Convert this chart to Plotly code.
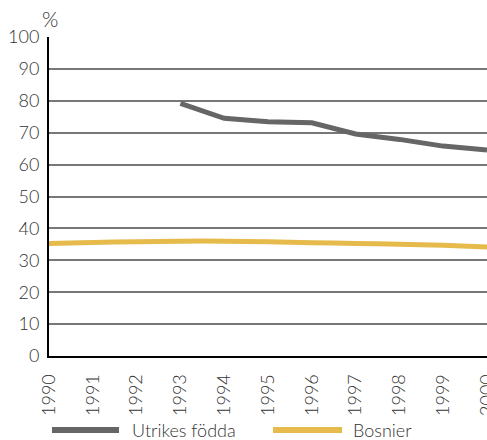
import plotly.graph_objects as go

years = [1990, 1991, 1992, 1993, 1994, 1995, 1996, 1997, 1998, 1999, 2000]
utrikes_years = [1993, 1994, 1995, 1996, 1997, 1998, 1999, 2000]
utrikes = [79.2, 74.5, 73.4, 73.1, 69.6, 67.9, 65.8, 64.6]
bosnier = [35.3, 35.6, 35.8, 36.0, 36.0, 35.8, 35.5, 35.3, 35.0, 34.7, 34.2]
y_ticks = [0, 10, 20, 30, 40, 50, 60, 70, 80, 90, 100]

GRAY = "#666666"
YELLOW = "#E6BB4C"
FONT = dict(family="Lato, sans-serif", size=18, color="#333333", weight=300)

fig = go.Figure()
fig.add_trace(go.Scatter(x=years, y=bosnier, mode="lines", name="Bosnier",
                         line=dict(color=YELLOW, width=5, shape="spline", smoothing=0.6),
                         showlegend=False))
fig.add_trace(go.Scatter(x=utrikes_years, y=utrikes, mode="lines", name="Utrikes födda",
                         line=dict(color=GRAY, width=5), showlegend=False))

W, H = 487, 440
L, R, T, B = 49, 0, 37, 84
pw, ph = W - L - R, H - T - B

def px_x(x):
    return (x - L) / pw

def px_y(y):
    return (H - B - y) / ph

shapes = [
    dict(type="line", xref="paper", yref="paper", x0=px_x(52), x1=px_x(119), y0=px_y(430), y1=px_y(430),
         line=dict(color=GRAY, width=6)),
    dict(type="line", xref="paper", yref="paper", x0=px_x(273), x1=px_x(342), y0=px_y(430), y1=px_y(430),
         line=dict(color=YELLOW, width=6)),
]
annotations = [
    dict(text="Utrikes födda", xref="paper", yref="paper", x=px_x(130), y=px_y(430), xanchor="left",
         yanchor="middle", showarrow=False, font=FONT),
    dict(text="Bosnier", xref="paper", yref="paper", x=px_x(351), y=px_y(430), xanchor="left",
         yanchor="middle", showarrow=False, font=FONT),
    dict(text="%", xref="paper", yref="paper", x=px_x(50), y=px_y(19), xanchor="center",
         yanchor="middle", showarrow=False, font=dict(family="Lato, sans-serif", size=21, color="#333333", weight=300)),
]

fig.update_layout(
    width=W, height=H,
    margin=dict(l=L, r=R, t=T, b=B, autoexpand=False),
    paper_bgcolor="white", plot_bgcolor="white",
    font=FONT,
    shapes=shapes,
    annotations=annotations,
    xaxis=dict(range=[1990, 2000], tickmode="array", tickvals=years, ticktext=[str(y) for y in years],
               tickangle=-90, showgrid=False, zeroline=False, showline=True, linecolor="black",
               linewidth=2, ticks="outside", ticklen=9, tickcolor="rgba(0,0,0,0)", tickfont=FONT,
               automargin=False, ticklabeloverflow="allow"),
    yaxis=dict(range=[0, 100], tickmode="array", tickvals=y_ticks, showgrid=True, gridcolor="#777777",
               gridwidth=1.5, zeroline=False, showline=True, linecolor="black", linewidth=2,
               ticks="outside", ticklen=4, tickcolor="rgba(0,0,0,0)", tickfont=FONT, automargin=False),
)

fig.write_html("out.html", config={"displayModeBar": False},
               post_script="document.body.style.margin='0';document.body.style.overflow='hidden';")
